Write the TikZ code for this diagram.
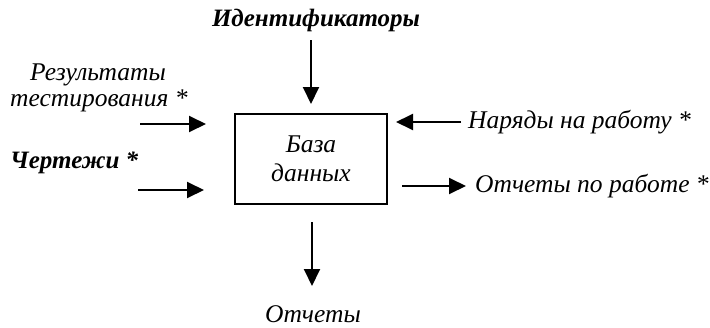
\documentclass[tikz,border=0pt]{standalone}
\usepackage{fontspec}
\setmainfont{Liberation Serif}
\usetikzlibrary{arrows.meta}
\tikzset{
  lbl/.style={font=\fontsize{25.5}{29}\selectfont\itshape, inner sep=0pt, align=center},
  blbl/.style={font=\fontsize{25}{29}\selectfont\bfseries\itshape, inner sep=0pt},
  flow/.style={line width=1.9pt, -{Triangle[length=17pt,width=16pt]}},
  dbbox/.style={draw, line width=1.9pt, minimum width=152pt, minimum height=90pt, inner sep=0pt, align=center, font=\fontsize{25.5}{29}\selectfont\itshape}
}
\begin{document}
\begin{tikzpicture}[x=1pt,y=-1pt]
\useasboundingbox (0,0) rectangle (710,327);
\node[dbbox] (box) at (311,159) {База\\данных};
\node[blbl] (ident) at (316,20) {Идентификаторы};
\node[lbl] (res1) at (98,75) {Результаты};
\node[lbl, anchor=west] (res2) at (10,101) {тестирования *};
\node[blbl, anchor=west] (cher) at (10,163) {Чертежи *};
\node[lbl, anchor=west] (nar) at (468,122) {Наряды на работу *};
\node[lbl, anchor=west] (otp) at (475,186) {Отчеты по работе *};
\node[lbl, anchor=base] (otch) at (313,322) {Отчеты};
% arrow endpoints
\coordinate (t1) at (311,40);  \coordinate (t2) at (311,104);
\coordinate (l1a) at (140,124); \coordinate (l1b) at (206,124);
\coordinate (l2a) at (138,190); \coordinate (l2b) at (204,190);
\coordinate (r1a) at (461,122); \coordinate (r1b) at (396,122);
\coordinate (r2a) at (402,186); \coordinate (r2b) at (466,186);
\coordinate (b1) at (312,222); \coordinate (b2) at (312,286);
\draw[flow] (t1) -- (t2);
\draw[flow] (l1a) -- (l1b);
\draw[flow] (l2a) -- (l2b);
\draw[flow] (r1a) -- (r1b);
\draw[flow] (r2a) -- (r2b);
\draw[flow] (b1) -- (b2);
\end{tikzpicture}
\end{document}
